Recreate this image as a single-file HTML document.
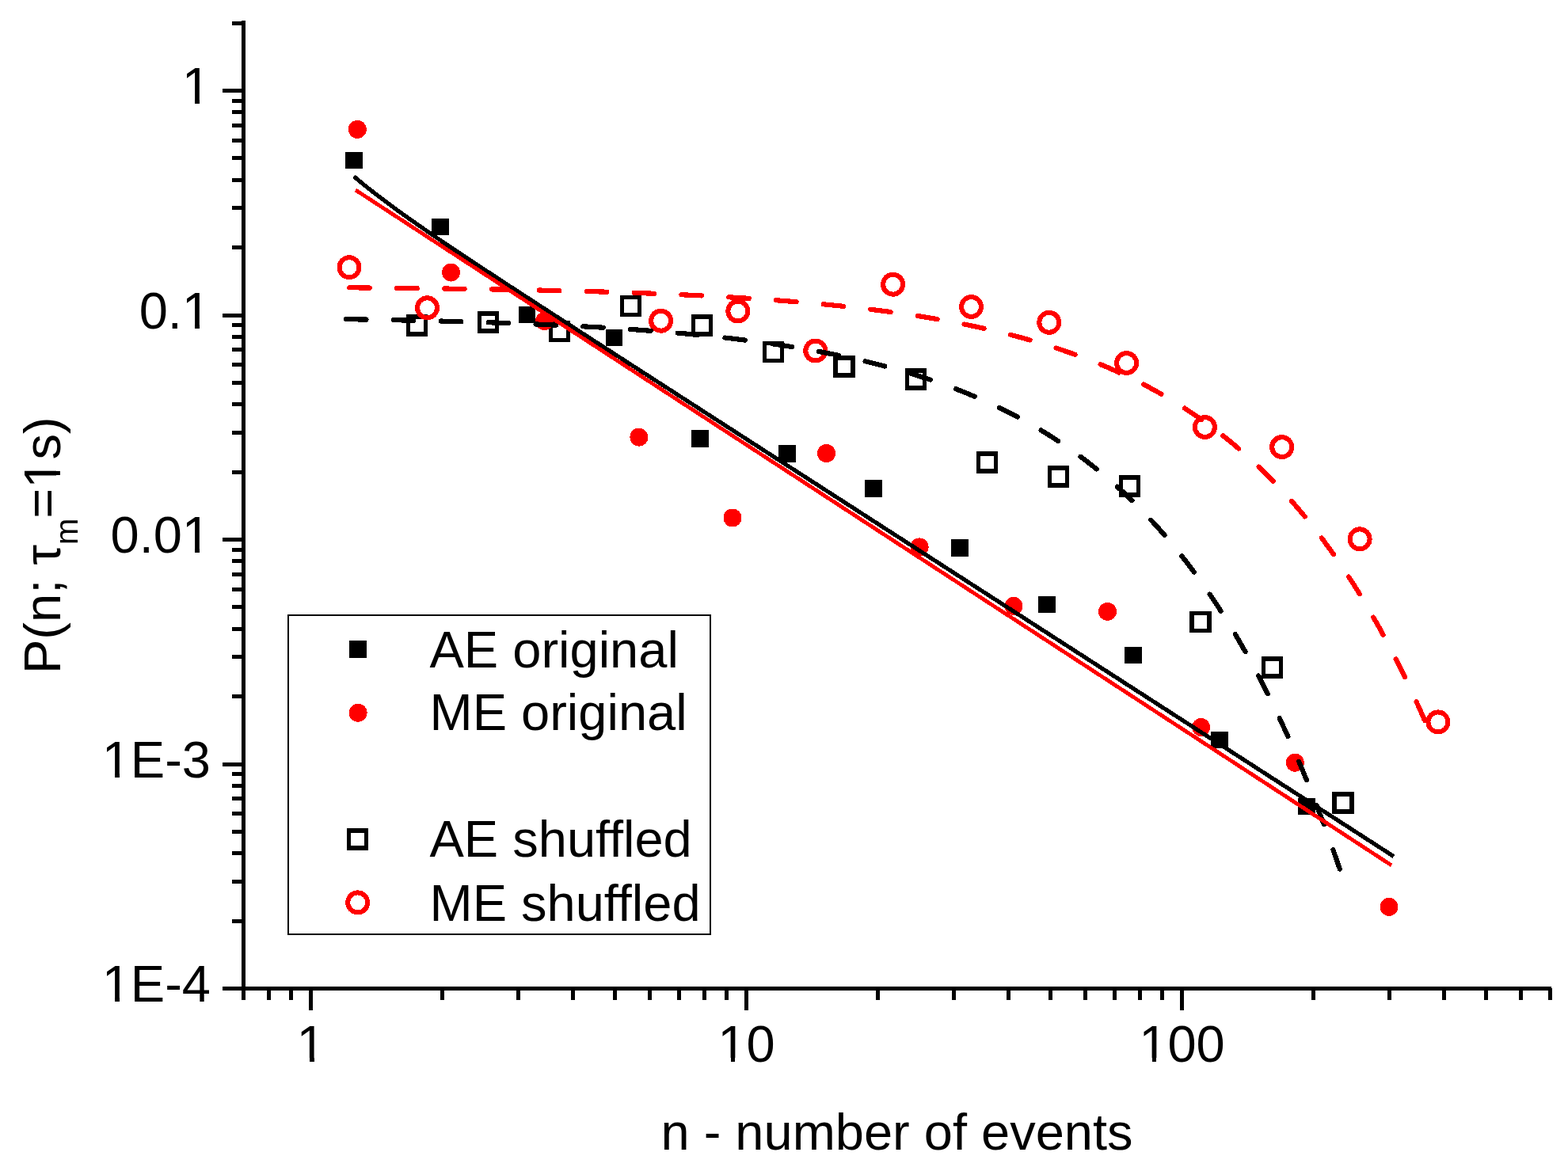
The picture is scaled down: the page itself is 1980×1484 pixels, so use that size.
<!DOCTYPE html>
<html><head><meta charset="utf-8"><title>P(n) plot</title>
<style>html,body{margin:0;padding:0;background:#fff;}svg{display:block;}</style>
</head><body>
<svg width="1980" height="1484" viewBox="0 0 1980 1484" font-family="'Liberation Sans', Arial, sans-serif">
<rect width="1980" height="1484" fill="#fff"/>
<g shape-rendering="crispEdges">
<g fill="#000"><rect x="305" y="26" width="5" height="1237"/><rect x="281" y="1246" width="1678" height="5"/><rect x="281" y="1246.00" width="26" height="5"/><rect x="293" y="1160.66" width="14" height="5"/><rect x="293" y="1110.74" width="14" height="5"/><rect x="293" y="1075.32" width="14" height="5"/><rect x="293" y="1047.84" width="14" height="5"/><rect x="293" y="1025.39" width="14" height="5"/><rect x="293" y="1006.41" width="14" height="5"/><rect x="293" y="989.97" width="14" height="5"/><rect x="293" y="975.47" width="14" height="5"/><rect x="281" y="962.50" width="26" height="5"/><rect x="293" y="877.16" width="14" height="5"/><rect x="293" y="827.24" width="14" height="5"/><rect x="293" y="791.82" width="14" height="5"/><rect x="293" y="764.34" width="14" height="5"/><rect x="293" y="741.89" width="14" height="5"/><rect x="293" y="722.91" width="14" height="5"/><rect x="293" y="706.47" width="14" height="5"/><rect x="293" y="691.97" width="14" height="5"/><rect x="281" y="679.00" width="26" height="5"/><rect x="293" y="593.66" width="14" height="5"/><rect x="293" y="543.74" width="14" height="5"/><rect x="293" y="508.32" width="14" height="5"/><rect x="293" y="480.84" width="14" height="5"/><rect x="293" y="458.39" width="14" height="5"/><rect x="293" y="439.41" width="14" height="5"/><rect x="293" y="422.97" width="14" height="5"/><rect x="293" y="408.47" width="14" height="5"/><rect x="281" y="395.50" width="26" height="5"/><rect x="293" y="310.16" width="14" height="5"/><rect x="293" y="260.24" width="14" height="5"/><rect x="293" y="224.82" width="14" height="5"/><rect x="293" y="197.34" width="14" height="5"/><rect x="293" y="174.89" width="14" height="5"/><rect x="293" y="155.91" width="14" height="5"/><rect x="293" y="139.47" width="14" height="5"/><rect x="293" y="124.97" width="14" height="5"/><rect x="281" y="112.00" width="26" height="5"/><rect x="293" y="26.66" width="14" height="5"/><rect x="304.80" y="1248" width="5" height="15"/><rect x="336.70" y="1248" width="5" height="15"/><rect x="364.83" y="1248" width="5" height="15"/><rect x="390.00" y="1248" width="5" height="28"/><rect x="555.57" y="1248" width="5" height="15"/><rect x="652.42" y="1248" width="5" height="15"/><rect x="721.13" y="1248" width="5" height="15"/><rect x="774.43" y="1248" width="5" height="15"/><rect x="817.98" y="1248" width="5" height="15"/><rect x="854.80" y="1248" width="5" height="15"/><rect x="886.70" y="1248" width="5" height="15"/><rect x="914.83" y="1248" width="5" height="15"/><rect x="940.00" y="1248" width="5" height="28"/><rect x="1105.57" y="1248" width="5" height="15"/><rect x="1202.42" y="1248" width="5" height="15"/><rect x="1271.13" y="1248" width="5" height="15"/><rect x="1324.43" y="1248" width="5" height="15"/><rect x="1367.98" y="1248" width="5" height="15"/><rect x="1404.80" y="1248" width="5" height="15"/><rect x="1436.70" y="1248" width="5" height="15"/><rect x="1464.83" y="1248" width="5" height="15"/><rect x="1490.00" y="1248" width="5" height="28"/><rect x="1655.57" y="1248" width="5" height="15"/><rect x="1752.42" y="1248" width="5" height="15"/><rect x="1821.13" y="1248" width="5" height="15"/><rect x="1874.43" y="1248" width="5" height="15"/><rect x="1917.98" y="1248" width="5" height="15"/><rect x="1954.80" y="1248" width="5" height="15"/></g>
<g font-size="65" fill="#000"><text x="266" y="131.0" text-anchor="end">1</text><text x="266" y="414.5" text-anchor="end">0.1</text><text x="266" y="698.0" text-anchor="end">0.01</text><text x="266" y="981.5" text-anchor="end">1E-3</text><text x="266" y="1265.0" text-anchor="end">1E-4</text><text x="392.5" y="1341" text-anchor="middle">1</text><text x="942.5" y="1341" text-anchor="middle">10</text><text x="1492.5" y="1341" text-anchor="middle">100</text><text x="1132.5" y="1451.5" text-anchor="middle">n - number of events</text><text transform="translate(76,851) rotate(-90)" x="0" y="0">P(n; τ<tspan font-size="40" dy="22">m</tspan><tspan dy="-22">=1s)</tspan></text></g>
<g fill="#fff"><rect x="233.14" y="125.95" width="13.0" height="5.7"/><rect x="251.94" y="125.95" width="12.4" height="5.7"/><rect x="233.14" y="409.45" width="13.0" height="5.7"/><rect x="251.94" y="409.45" width="12.4" height="5.7"/><rect x="233.13" y="692.95" width="13.0" height="5.7"/><rect x="251.93" y="692.95" width="12.4" height="5.7"/><rect x="131.99" y="976.45" width="13.0" height="5.7"/><rect x="150.79" y="976.45" width="12.4" height="5.7"/><rect x="131.99" y="1259.95" width="13.0" height="5.7"/><rect x="150.79" y="1259.95" width="12.4" height="5.7"/><rect x="377.72" y="1335.95" width="13.0" height="5.7"/><rect x="396.52" y="1335.95" width="12.4" height="5.7"/><rect x="909.64" y="1335.95" width="13.0" height="5.7"/><rect x="928.44" y="1335.95" width="12.4" height="5.7"/><rect x="1441.57" y="1335.95" width="13.0" height="5.7"/><rect x="1460.37" y="1335.95" width="12.4" height="5.7"/></g>
<g fill="#fff" transform="translate(76,851) rotate(-90)"><rect x="237.53" y="-5.05" width="13.0" height="5.7"/><rect x="256.33" y="-5.05" width="12.4" height="5.7"/></g>
<g fill="#000"><rect x="436.15" y="191.65" width="21.5" height="21.5"/><rect x="545.15" y="275.65" width="21.5" height="21.5"/><rect x="654.75" y="386.75" width="21.5" height="21.5"/><rect x="764.55" y="415.65" width="21.5" height="21.5"/><rect x="873.25" y="543.25" width="21.5" height="21.5"/><rect x="983.25" y="562.25" width="21.5" height="21.5"/><rect x="1092.25" y="606.05" width="21.5" height="21.5"/><rect x="1201.25" y="681.25" width="21.5" height="21.5"/><rect x="1311.25" y="752.55" width="21.5" height="21.5"/><rect x="1420.25" y="816.55" width="21.5" height="21.5"/><rect x="1529.25" y="923.55" width="21.5" height="21.5"/><rect x="1639.25" y="1007.75" width="21.5" height="21.5"/></g>
<g fill="none" stroke="#000" stroke-width="5.5"><rect x="515.50" y="399.90" width="22" height="22"/><rect x="605.40" y="396.00" width="22" height="22"/><rect x="695.50" y="407.30" width="22" height="22"/><rect x="785.50" y="375.70" width="22" height="22"/><rect x="875.40" y="400.20" width="22" height="22"/><rect x="965.30" y="433.30" width="22" height="22"/><rect x="1055.20" y="452.20" width="22" height="22"/><rect x="1145.50" y="467.80" width="22" height="22"/><rect x="1235.50" y="573.00" width="22" height="22"/><rect x="1325.50" y="591.20" width="22" height="22"/><rect x="1415.30" y="603.00" width="22" height="22"/><rect x="1505.20" y="774.60" width="22" height="22"/><rect x="1595.30" y="832.00" width="22" height="22"/><rect x="1685.00" y="1003.00" width="22" height="22"/></g>
<g fill="#f00"><circle cx="451.30" cy="163.40" r="11.5"/><circle cx="569.50" cy="344.10" r="11.5"/><circle cx="687.50" cy="405.50" r="11.5"/><circle cx="806.90" cy="552.10" r="11.5"/><circle cx="925.00" cy="654.00" r="11.5"/><circle cx="1043.50" cy="572.50" r="11.5"/><circle cx="1161.10" cy="690.90" r="11.5"/><circle cx="1280.00" cy="765.30" r="11.5"/><circle cx="1398.50" cy="772.40" r="11.5"/><circle cx="1516.70" cy="918.50" r="11.5"/><circle cx="1635.30" cy="963.20" r="11.5"/><circle cx="1754.00" cy="1145.30" r="11.5"/></g>
<g fill="none" stroke="#f00" stroke-width="6"><circle cx="441.00" cy="337.70" r="12.5"/><circle cx="539.50" cy="388.80" r="12.5"/><circle cx="834.60" cy="405.20" r="12.5"/><circle cx="931.80" cy="393.00" r="12.5"/><circle cx="1029.80" cy="443.00" r="12.5"/><circle cx="1127.60" cy="359.20" r="12.5"/><circle cx="1226.50" cy="387.50" r="12.5"/><circle cx="1324.80" cy="407.30" r="12.5"/><circle cx="1422.60" cy="458.50" r="12.5"/><circle cx="1521.40" cy="539.50" r="12.5"/><circle cx="1618.70" cy="564.60" r="12.5"/><circle cx="1717.10" cy="680.80" r="12.5"/><circle cx="1815.90" cy="911.90" r="12.5"/></g>
<path d="M441.30,363.32 L444.72,363.34 L448.14,363.37 L451.55,363.40 L454.97,363.43 L458.39,363.45 L461.81,363.48 L465.22,363.51 L468.64,363.54 L472.06,363.57 L475.48,363.60 L478.90,363.63 L482.31,363.67 L485.73,363.70 L489.15,363.73 L492.57,363.76 L495.98,363.80 L499.40,363.83 L502.82,363.86 L506.24,363.90 L509.66,363.93 L513.07,363.97 L516.49,364.01 L519.91,364.04 L523.33,364.08 L526.74,364.12 L530.16,364.16 L533.58,364.20 L537.00,364.23 L540.42,364.27 L543.83,364.32 L547.25,364.36 L550.67,364.40 L554.09,364.44 L557.51,364.48 L560.92,364.53 L564.34,364.57 L567.76,364.62 L571.18,364.66 L574.59,364.71 L578.01,364.76 L581.43,364.80 L584.85,364.85 L588.27,364.90 L591.68,364.95 L595.10,365.00 L598.52,365.05 L601.94,365.10 L605.35,365.16 L608.77,365.21 L612.19,365.26 L615.61,365.32 L619.03,365.37 L622.44,365.43 L625.86,365.49 L629.28,365.55 L632.70,365.61 L636.11,365.67 L639.53,365.73 L642.95,365.79 L646.37,365.85 L649.79,365.91 L653.20,365.98 L656.62,366.04 L660.04,366.11 L663.46,366.18 L666.87,366.25 L670.29,366.31 L673.71,366.38 L677.13,366.46 L680.55,366.53 L683.96,366.60 L687.38,366.67 L690.80,366.75 L694.22,366.83 L697.63,366.90 L701.05,366.98 L704.47,367.06 L707.89,367.14 L711.31,367.22 L714.72,367.31 L718.14,367.39 L721.56,367.48 L724.98,367.56 L728.39,367.65 L731.81,367.74 L735.23,367.83 L738.65,367.93 L742.07,368.02 L745.48,368.11 L748.90,368.21 L752.32,368.31 L755.74,368.41 L759.15,368.51 L762.57,368.61 L765.99,368.71 L769.41,368.81 L772.83,368.92 L776.24,369.03 L779.66,369.14 L783.08,369.25 L786.50,369.36 L789.92,369.47 L793.33,369.59 L796.75,369.71 L800.17,369.83 L803.59,369.95 L807.00,370.07 L810.42,370.19 L813.84,370.32 L817.26,370.45 L820.68,370.58 L824.09,370.71 L827.51,370.84 L830.93,370.98 L834.35,371.11 L837.76,371.25 L841.18,371.40 L844.60,371.54 L848.02,371.68 L851.44,371.83 L854.85,371.98 L858.27,372.13 L861.69,372.29 L865.11,372.44 L868.52,372.60 L871.94,372.76 L875.36,372.92 L878.78,373.09 L882.20,373.26 L885.61,373.43 L889.03,373.60 L892.45,373.78 L895.87,373.95 L899.28,374.13 L902.70,374.32 L906.12,374.50 L909.54,374.69 L912.96,374.88 L916.37,375.07 L919.79,375.27 L923.21,375.47 L926.63,375.67 L930.04,375.88 L933.46,376.08 L936.88,376.30 L940.30,376.51 L943.72,376.73 L947.13,376.95 L950.55,377.17 L953.97,377.40 L957.39,377.63 L960.80,377.86 L964.22,378.10 L967.64,378.34 L971.06,378.58 L974.48,378.83 L977.89,379.08 L981.31,379.33 L984.73,379.59 L988.15,379.85 L991.56,380.11 L994.98,380.38 L998.40,380.66 L1001.82,380.93 L1005.24,381.21 L1008.65,381.50 L1012.07,381.79 L1015.49,382.08 L1018.91,382.38 L1022.33,382.68 L1025.74,382.98 L1029.16,383.29 L1032.58,383.61 L1036.00,383.93 L1039.41,384.25 L1042.83,384.58 L1046.25,384.91 L1049.67,385.25 L1053.09,385.60 L1056.50,385.94 L1059.92,386.30 L1063.34,386.66 L1066.76,387.02 L1070.17,387.39 L1073.59,387.76 L1077.01,388.14 L1080.43,388.52 L1083.85,388.91 L1087.26,389.31 L1090.68,389.71 L1094.10,390.12 L1097.52,390.53 L1100.93,390.95 L1104.35,391.38 L1107.77,391.81 L1111.19,392.24 L1114.61,392.69 L1118.02,393.14 L1121.44,393.60 L1124.86,394.06 L1128.28,394.53 L1131.69,395.01 L1135.11,395.49 L1138.53,395.98 L1141.95,396.48 L1145.37,396.98 L1148.78,397.49 L1152.20,398.01 L1155.62,398.54 L1159.04,399.07 L1162.45,399.62 L1165.87,400.17 L1169.29,400.72 L1172.71,401.29 L1176.13,401.86 L1179.54,402.45 L1182.96,403.04 L1186.38,403.64 L1189.80,404.25 L1193.21,404.86 L1196.63,405.49 L1200.05,406.12 L1203.47,406.77 L1206.89,407.42 L1210.30,408.08 L1213.72,408.75 L1217.14,409.44 L1220.56,410.13 L1223.97,410.83 L1227.39,411.54 L1230.81,412.26 L1234.23,412.99 L1237.65,413.74 L1241.06,414.49 L1244.48,415.25 L1247.90,416.03 L1251.32,416.82 L1254.74,417.61 L1258.15,418.42 L1261.57,419.24 L1264.99,420.08 L1268.41,420.92 L1271.82,421.78 L1275.24,422.65 L1278.66,423.53 L1282.08,424.43 L1285.50,425.33 L1288.91,426.25 L1292.33,427.19 L1295.75,428.14 L1299.17,429.10 L1302.58,430.07 L1306.00,431.06 L1309.42,432.06 L1312.84,433.08 L1316.26,434.11 L1319.67,435.16 L1323.09,436.22 L1326.51,437.30 L1329.93,438.39 L1333.34,439.50 L1336.76,440.63 L1340.18,441.77 L1343.60,442.93 L1347.02,444.10 L1350.43,445.29 L1353.85,446.50 L1357.27,447.72 L1360.69,448.97 L1364.10,450.23 L1367.52,451.51 L1370.94,452.81 L1374.36,454.12 L1377.78,455.46 L1381.19,456.81 L1384.61,458.19 L1388.03,459.58 L1391.45,461.00 L1394.86,462.43 L1398.28,463.89 L1401.70,465.36 L1405.12,466.86 L1408.54,468.38 L1411.95,469.92 L1415.37,471.48 L1418.79,473.07 L1422.21,474.68 L1425.62,476.31 L1429.04,477.96 L1432.46,479.64 L1435.88,481.35 L1439.30,483.07 L1442.71,484.83 L1446.13,486.60 L1449.55,488.41 L1452.97,490.24 L1456.38,492.09 L1459.80,493.98 L1463.22,495.89 L1466.64,497.82 L1470.06,499.79 L1473.47,501.78 L1476.89,503.81 L1480.31,505.86 L1483.73,507.94 L1487.15,510.05 L1490.56,512.19 L1493.98,514.36 L1497.40,516.57 L1500.82,518.80 L1504.23,521.07 L1507.65,523.37 L1511.07,525.70 L1514.49,528.07 L1517.91,530.47 L1521.32,532.91 L1524.74,535.38 L1528.16,537.89 L1531.58,540.43 L1534.99,543.01 L1538.41,545.62 L1541.83,548.28 L1545.25,550.97 L1548.67,553.70 L1552.08,556.47 L1555.50,559.28 L1558.92,562.13 L1562.34,565.03 L1565.75,567.96 L1569.17,570.94 L1572.59,573.95 L1576.01,577.02 L1579.43,580.12 L1582.84,583.28 L1586.26,586.47 L1589.68,589.71 L1593.10,593.00 L1596.51,596.34 L1599.93,599.73 L1603.35,603.16 L1606.77,606.64 L1610.19,610.18 L1613.60,613.76 L1617.02,617.40 L1620.44,621.09 L1623.86,624.83 L1627.27,628.62 L1630.69,632.47 L1634.11,636.38 L1637.53,640.34 L1640.95,644.36 L1644.36,648.44 L1647.78,652.57 L1651.20,656.77 L1654.62,661.03 L1658.03,665.34 L1661.45,669.72 L1664.87,674.17 L1668.29,678.67 L1671.71,683.24 L1675.12,687.88 L1678.54,692.59 L1681.96,697.36 L1685.38,702.20 L1688.79,707.11 L1692.21,712.09 L1695.63,717.14 L1699.05,722.27 L1702.47,727.47 L1705.88,732.75 L1709.30,738.10 L1712.72,743.52 L1716.14,749.03 L1719.56,754.62 L1722.97,760.28 L1726.39,766.03 L1729.81,771.86 L1733.23,777.78 L1736.64,783.77 L1740.06,789.86 L1743.48,796.04 L1746.90,802.30 L1750.32,808.65 L1753.73,815.10 L1757.15,821.63 L1760.57,828.27 L1763.99,834.99 L1767.40,841.82 L1770.82,848.74 L1774.24,855.76 L1777.66,862.89 L1781.08,870.11 L1784.49,877.44 L1787.91,884.88 L1791.33,892.42 L1794.75,900.08 L1798.16,907.84 L1801.58,915.71 L1805.00,923.70" stroke="#f00" stroke-width="6.2" fill="none" stroke-dasharray="25.5 34.4" stroke-linecap="round"/>
<path d="M437.00,403.17 L440.15,403.22 L443.30,403.27 L446.45,403.32 L449.60,403.37 L452.75,403.42 L455.90,403.47 L459.05,403.52 L462.20,403.57 L465.35,403.63 L468.50,403.68 L471.65,403.74 L474.80,403.79 L477.95,403.85 L481.11,403.91 L484.26,403.97 L487.41,404.03 L490.56,404.09 L493.71,404.15 L496.86,404.21 L500.01,404.27 L503.16,404.33 L506.31,404.40 L509.46,404.46 L512.61,404.53 L515.76,404.59 L518.91,404.66 L522.06,404.73 L525.21,404.80 L528.36,404.87 L531.51,404.94 L534.66,405.01 L537.81,405.08 L540.96,405.16 L544.11,405.23 L547.26,405.31 L550.41,405.39 L553.56,405.46 L556.71,405.54 L559.86,405.62 L563.02,405.70 L566.17,405.79 L569.32,405.87 L572.47,405.95 L575.62,406.04 L578.77,406.13 L581.92,406.21 L585.07,406.30 L588.22,406.39 L591.37,406.48 L594.52,406.58 L597.67,406.67 L600.82,406.77 L603.97,406.86 L607.12,406.96 L610.27,407.06 L613.42,407.16 L616.57,407.26 L619.72,407.36 L622.87,407.47 L626.02,407.57 L629.17,407.68 L632.32,407.79 L635.47,407.90 L638.62,408.01 L641.77,408.12 L644.92,408.24 L648.08,408.35 L651.23,408.47 L654.38,408.59 L657.53,408.71 L660.68,408.83 L663.83,408.95 L666.98,409.08 L670.13,409.21 L673.28,409.33 L676.43,409.46 L679.58,409.60 L682.73,409.73 L685.88,409.87 L689.03,410.00 L692.18,410.14 L695.33,410.28 L698.48,410.43 L701.63,410.57 L704.78,410.72 L707.93,410.87 L711.08,411.02 L714.23,411.17 L717.38,411.32 L720.53,411.48 L723.68,411.64 L726.83,411.80 L729.98,411.96 L733.14,412.13 L736.29,412.30 L739.44,412.47 L742.59,412.64 L745.74,412.81 L748.89,412.99 L752.04,413.17 L755.19,413.35 L758.34,413.53 L761.49,413.72 L764.64,413.91 L767.79,414.10 L770.94,414.29 L774.09,414.49 L777.24,414.69 L780.39,414.89 L783.54,415.09 L786.69,415.30 L789.84,415.51 L792.99,415.72 L796.14,415.94 L799.29,416.15 L802.44,416.38 L805.59,416.60 L808.74,416.83 L811.89,417.06 L815.05,417.29 L818.20,417.52 L821.35,417.76 L824.50,418.01 L827.65,418.25 L830.80,418.50 L833.95,418.75 L837.10,419.01 L840.25,419.27 L843.40,419.53 L846.55,419.79 L849.70,420.06 L852.85,420.34 L856.00,420.61 L859.15,420.89 L862.30,421.18 L865.45,421.46 L868.60,421.76 L871.75,422.05 L874.90,422.35 L878.05,422.65 L881.20,422.96 L884.35,423.27 L887.50,423.59 L890.65,423.91 L893.80,424.23 L896.95,424.56 L900.11,424.89 L903.26,425.23 L906.41,425.57 L909.56,425.91 L912.71,426.26 L915.86,426.62 L919.01,426.98 L922.16,427.34 L925.31,427.71 L928.46,428.09 L931.61,428.47 L934.76,428.85 L937.91,429.24 L941.06,429.64 L944.21,430.04 L947.36,430.44 L950.51,430.85 L953.66,431.27 L956.81,431.69 L959.96,432.12 L963.11,432.55 L966.26,432.99 L969.41,433.43 L972.56,433.88 L975.71,434.34 L978.86,434.80 L982.02,435.27 L985.17,435.74 L988.32,436.22 L991.47,436.71 L994.62,437.21 L997.77,437.71 L1000.92,438.21 L1004.07,438.73 L1007.22,439.25 L1010.37,439.78 L1013.52,440.31 L1016.67,440.85 L1019.82,441.40 L1022.97,441.96 L1026.12,442.52 L1029.27,443.09 L1032.42,443.67 L1035.57,444.26 L1038.72,444.85 L1041.87,445.45 L1045.02,446.06 L1048.17,446.68 L1051.32,447.30 L1054.47,447.94 L1057.62,448.58 L1060.77,449.23 L1063.92,449.89 L1067.08,450.56 L1070.23,451.24 L1073.38,451.93 L1076.53,452.62 L1079.68,453.33 L1082.83,454.04 L1085.98,454.77 L1089.13,455.50 L1092.28,456.24 L1095.43,457.00 L1098.58,457.76 L1101.73,458.53 L1104.88,459.32 L1108.03,460.11 L1111.18,460.91 L1114.33,461.73 L1117.48,462.56 L1120.63,463.39 L1123.78,464.24 L1126.93,465.10 L1130.08,465.97 L1133.23,466.85 L1136.38,467.75 L1139.53,468.65 L1142.68,469.57 L1145.83,470.50 L1148.98,471.44 L1152.14,472.40 L1155.29,473.36 L1158.44,474.35 L1161.59,475.34 L1164.74,476.35 L1167.89,477.37 L1171.04,478.40 L1174.19,479.45 L1177.34,480.51 L1180.49,481.58 L1183.64,482.67 L1186.79,483.78 L1189.94,484.89 L1193.09,486.03 L1196.24,487.18 L1199.39,488.34 L1202.54,489.52 L1205.69,490.72 L1208.84,491.93 L1211.99,493.15 L1215.14,494.40 L1218.29,495.66 L1221.44,496.93 L1224.59,498.23 L1227.74,499.54 L1230.89,500.86 L1234.05,502.21 L1237.20,503.57 L1240.35,504.95 L1243.50,506.35 L1246.65,507.77 L1249.80,509.21 L1252.95,510.67 L1256.10,512.14 L1259.25,513.64 L1262.40,515.15 L1265.55,516.69 L1268.70,518.24 L1271.85,519.82 L1275.00,521.42 L1278.15,523.03 L1281.30,524.67 L1284.45,526.34 L1287.60,528.02 L1290.75,529.73 L1293.90,531.45 L1297.05,533.21 L1300.20,534.98 L1303.35,536.78 L1306.50,538.60 L1309.65,540.45 L1312.80,542.32 L1315.95,544.22 L1319.11,546.14 L1322.26,548.08 L1325.41,550.06 L1328.56,552.05 L1331.71,554.08 L1334.86,556.13 L1338.01,558.21 L1341.16,560.32 L1344.31,562.45 L1347.46,564.62 L1350.61,566.81 L1353.76,569.03 L1356.91,571.28 L1360.06,573.56 L1363.21,575.87 L1366.36,578.21 L1369.51,580.58 L1372.66,582.99 L1375.81,585.42 L1378.96,587.89 L1382.11,590.39 L1385.26,592.93 L1388.41,595.49 L1391.56,598.10 L1394.71,600.73 L1397.86,603.40 L1401.02,606.11 L1404.17,608.85 L1407.32,611.63 L1410.47,614.45 L1413.62,617.30 L1416.77,620.19 L1419.92,623.12 L1423.07,626.09 L1426.22,629.10 L1429.37,632.15 L1432.52,635.24 L1435.67,638.37 L1438.82,641.54 L1441.97,644.75 L1445.12,648.01 L1448.27,651.31 L1451.42,654.65 L1454.57,658.04 L1457.72,661.47 L1460.87,664.95 L1464.02,668.47 L1467.17,672.04 L1470.32,675.66 L1473.47,679.33 L1476.62,683.04 L1479.77,686.80 L1482.92,690.62 L1486.08,694.48 L1489.23,698.40 L1492.38,702.37 L1495.53,706.39 L1498.68,710.46 L1501.83,714.59 L1504.98,718.77 L1508.13,723.01 L1511.28,727.31 L1514.43,731.66 L1517.58,736.07 L1520.73,740.54 L1523.88,745.06 L1527.03,749.65 L1530.18,754.30 L1533.33,759.01 L1536.48,763.78 L1539.63,768.62 L1542.78,773.52 L1545.93,778.49 L1549.08,783.52 L1552.23,788.61 L1555.38,793.78 L1558.53,799.02 L1561.68,804.32 L1564.83,809.69 L1567.98,815.14 L1571.14,820.66 L1574.29,826.25 L1577.44,831.91 L1580.59,837.65 L1583.74,843.47 L1586.89,849.37 L1590.04,855.34 L1593.19,861.39 L1596.34,867.52 L1599.49,873.74 L1602.64,880.03 L1605.79,886.41 L1608.94,892.87 L1612.09,899.42 L1615.24,906.06 L1618.39,912.79 L1621.54,919.60 L1624.69,926.51 L1627.84,933.50 L1630.99,940.59 L1634.14,947.78 L1637.29,955.05 L1640.44,962.43 L1643.59,969.90 L1646.74,977.48 L1649.89,985.15 L1653.05,992.92 L1656.20,1000.80 L1659.35,1008.79 L1662.50,1016.88 L1665.65,1025.07 L1668.80,1033.38 L1671.95,1041.79 L1675.10,1050.32 L1678.25,1058.96 L1681.40,1067.71 L1684.55,1076.59 L1687.70,1085.57 L1690.85,1094.68 L1694.00,1103.91" stroke="#000" stroke-width="6.2" fill="none" stroke-dasharray="25.5 34.4" stroke-linecap="round"/>
<path d="M447.00,222.90 L453.60,228.42 L460.20,233.81 L466.79,239.08 L473.39,244.24 L479.99,249.31 L486.59,254.30 L493.19,259.21 L499.78,264.05 L506.38,268.83 L512.98,273.55 L519.58,278.23 L526.18,282.86 L532.77,287.45 L539.37,292.01 L545.97,296.53 L552.57,301.03 L559.17,305.50 L565.76,309.95 L572.36,314.38 L578.96,318.79 L585.56,323.19 L592.16,327.57 L598.75,331.93 L605.35,336.29 L611.95,340.63 L618.55,344.97 L625.15,349.29 L631.74,353.61 L638.34,357.93 L644.94,362.23 L651.54,366.53 L658.14,370.83 L664.73,375.12 L671.33,379.41 L677.93,383.69 L684.53,387.97 L691.13,392.25 L697.72,396.53 L704.32,400.80 L710.92,405.07 L717.52,409.34 L724.12,413.61 L730.71,417.88 L737.31,422.14 L743.91,426.41 L750.51,430.67 L757.11,434.93 L763.70,439.20 L770.30,443.46 L776.90,447.72 L783.50,451.98 L790.10,456.23 L796.69,460.49 L803.29,464.75 L809.89,469.01 L816.49,473.27 L823.09,477.52 L829.68,481.78 L836.28,486.04 L842.88,490.29 L849.48,494.55 L856.08,498.80 L862.67,503.06 L869.27,507.32 L875.87,511.57 L882.47,515.83 L889.07,520.08 L895.66,524.34 L902.26,528.59 L908.86,532.85 L915.46,537.10 L922.06,541.36 L928.65,545.61 L935.25,549.87 L941.85,554.12 L948.45,558.38 L955.05,562.63 L961.64,566.89 L968.24,571.14 L974.84,575.39 L981.44,579.65 L988.04,583.90 L994.63,588.16 L1001.23,592.41 L1007.83,596.67 L1014.43,600.92 L1021.03,605.18 L1027.62,609.43 L1034.22,613.68 L1040.82,617.94 L1047.42,622.19 L1054.02,626.45 L1060.61,630.70 L1067.21,634.96 L1073.81,639.21 L1080.41,643.47 L1087.01,647.72 L1093.60,651.97 L1100.20,656.23 L1106.80,660.48 L1113.40,664.74 L1119.99,668.99 L1126.59,673.25 L1133.19,677.50 L1139.79,681.76 L1146.39,686.01 L1152.98,690.26 L1159.58,694.52 L1166.18,698.77 L1172.78,703.03 L1179.38,707.28 L1185.97,711.54 L1192.57,715.79 L1199.17,720.04 L1205.77,724.30 L1212.37,728.55 L1218.96,732.81 L1225.56,737.06 L1232.16,741.32 L1238.76,745.57 L1245.36,749.83 L1251.95,754.08 L1258.55,758.33 L1265.15,762.59 L1271.75,766.84 L1278.35,771.10 L1284.94,775.35 L1291.54,779.61 L1298.14,783.86 L1304.74,788.11 L1311.34,792.37 L1317.93,796.62 L1324.53,800.88 L1331.13,805.13 L1337.73,809.39 L1344.33,813.64 L1350.92,817.90 L1357.52,822.15 L1364.12,826.40 L1370.72,830.66 L1377.32,834.91 L1383.91,839.17 L1390.51,843.42 L1397.11,847.68 L1403.71,851.93 L1410.31,856.18 L1416.90,860.44 L1423.50,864.69 L1430.10,868.95 L1436.70,873.20 L1443.30,877.46 L1449.89,881.71 L1456.49,885.97 L1463.09,890.22 L1469.69,894.47 L1476.29,898.73 L1482.88,902.98 L1489.48,907.24 L1496.08,911.49 L1502.68,915.75 L1509.28,920.00 L1515.87,924.25 L1522.47,928.51 L1529.07,932.76 L1535.67,937.02 L1542.27,941.27 L1548.86,945.53 L1555.46,949.78 L1562.06,954.03 L1568.66,958.29 L1575.26,962.54 L1581.85,966.80 L1588.45,971.05 L1595.05,975.31 L1601.65,979.56 L1608.25,983.82 L1614.84,988.07 L1621.44,992.32 L1628.04,996.58 L1634.64,1000.83 L1641.24,1005.09 L1647.83,1009.34 L1654.43,1013.60 L1661.03,1017.85 L1667.63,1022.10 L1674.23,1026.36 L1680.82,1030.61 L1687.42,1034.87 L1694.02,1039.12 L1700.62,1043.38 L1707.22,1047.63 L1713.81,1051.89 L1720.41,1056.14 L1727.01,1060.39 L1733.61,1064.65 L1740.21,1068.90 L1746.80,1073.16 L1753.40,1077.41 L1760.00,1081.67" stroke="#000" stroke-width="5.2" fill="none"/>
<path d="M449,239.98 L1757,1092.80" stroke="#f00" stroke-width="4.9" fill="none"/>
<rect x="364" y="777" width="533" height="403" fill="none" stroke="#000" stroke-width="2"/><g fill="#000"><rect x="441.45" y="809.45" width="21.5" height="21.5"/></g><g fill="#f00"><circle cx="452.10" cy="900.20" r="11.5"/></g><g fill="none" stroke="#000" stroke-width="5.5"><rect x="440.70" y="1049.10" width="22" height="22"/></g><g fill="none" stroke="#f00" stroke-width="6"><circle cx="451.70" cy="1139.90" r="12.5"/></g><g font-size="65" fill="#000"><text x="542.5" y="842.6">AE original</text><text x="542.5" y="922.2">ME original</text><text x="542.5" y="1082.4">AE shuffled</text><text x="542.5" y="1162.7">ME shuffled</text></g>
</g></svg>
</body></html>
